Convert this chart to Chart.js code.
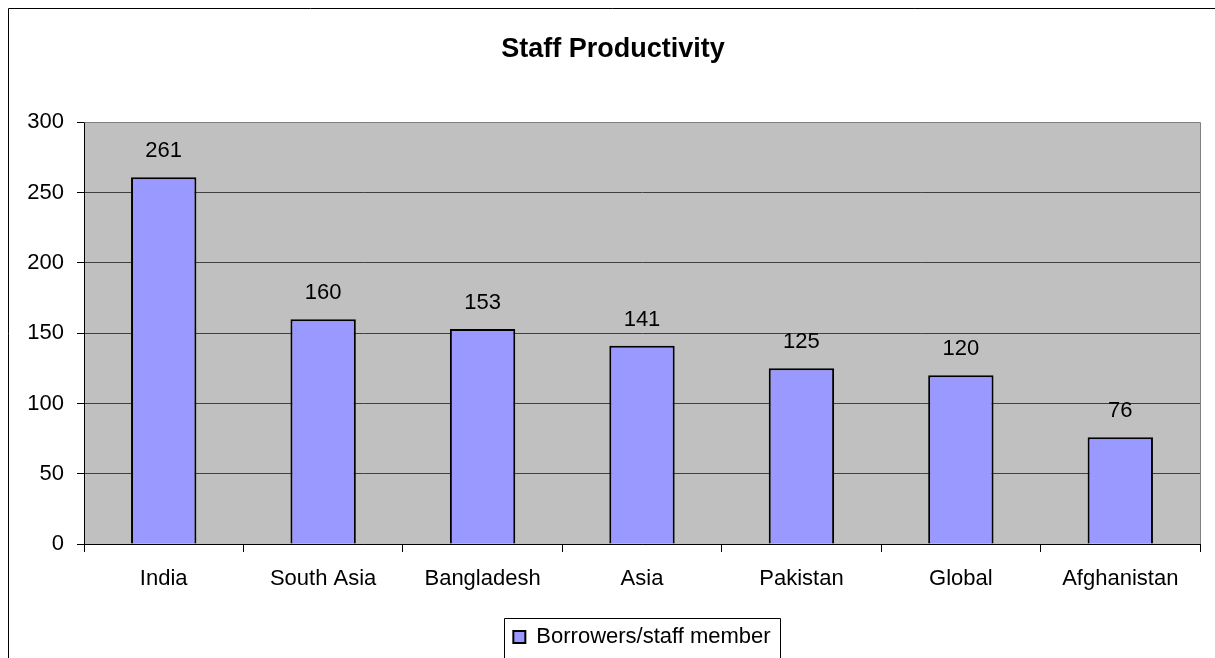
<!DOCTYPE html>
<html>
<head>
<meta charset="utf-8">
<script src="https://cdn.jsdelivr.net/npm/chart.js"></script>
<style>
  html, body { margin: 0; padding: 0; background: #fff; }
  #wrap { width: 1215px; height: 658px; overflow: hidden; }
</style>
</head>
<body>
<div id="wrap"><canvas id="chart" width="1215" height="658"></canvas></div>
<script>
  const categories = ['India', 'South Asia', 'Bangladesh', 'Asia', 'Pakistan', 'Global', 'Afghanistan'];
  const borrowersPerStaff = [261, 160, 153, 141, 125, 120, 76];
  const seriesName = 'Borrowers/staff member';
  const yTicks = [0, 50, 100, 150, 200, 250, 300];

  const FONT = '"Liberation Sans", Arial, sans-serif';

  // frame, plot background, plot border, value labels, legend frame
  const decor = {
    id: 'decor',
    beforeDraw(chart) {
      const ctx = chart.ctx;
      const a = chart.chartArea;
      ctx.save();
      ctx.fillStyle = '#C0C0C0';
      ctx.fillRect(a.left, a.top, a.right - a.left, a.bottom - a.top);
      ctx.strokeStyle = '#000';
      ctx.lineWidth = 1;
      ctx.beginPath();
      ctx.moveTo(8.5, 700);
      ctx.lineTo(8.5, 8.5);
      ctx.lineTo(1300, 8.5);
      ctx.stroke();
      ctx.restore();
    },
    afterDatasetsDraw(chart) {
      const ctx = chart.ctx;
      const a = chart.chartArea;
      ctx.save();
      ctx.strokeStyle = '#808080';
      ctx.lineWidth = 1;
      ctx.beginPath();
      ctx.moveTo(Math.round(a.left) + 0.5, Math.round(a.top) + 0.5);
      ctx.lineTo(Math.round(a.right) + 0.5, Math.round(a.top) + 0.5);
      ctx.lineTo(Math.round(a.right) + 0.5, Math.round(a.bottom));
      ctx.stroke();

      ctx.fillStyle = '#000';
      ctx.font = '22px ' + FONT;
      ctx.textAlign = 'center';
      ctx.textBaseline = 'middle';
      chart.getDatasetMeta(0).data.forEach((bar, i) => {
        ctx.fillText(String(borrowersPerStaff[i]), bar.x, bar.y - 26);
      });
      ctx.restore();
    },
    afterDraw(chart) {
      const hb = chart.legend.legendHitBoxes[0];
      if (!hb) return;
      const ctx = chart.ctx;
      ctx.save();
      ctx.strokeStyle = '#000';
      ctx.lineWidth = 1;
      const l = Math.round(hb.left - 9) + 0.5;
      const r = Math.round(hb.left + hb.width + 9) + 0.5;
      const t = Math.round(hb.top + hb.height / 2 - 19) + 0.5;
      ctx.beginPath();
      ctx.moveTo(l, 700);
      ctx.lineTo(l, t);
      ctx.lineTo(r, t);
      ctx.lineTo(r, 700);
      ctx.stroke();
      ctx.restore();
    }
  };

  new Chart(document.getElementById('chart').getContext('2d'), {
    type: 'bar',
    data: {
      labels: categories,
      datasets: [{
        label: seriesName,
        data: borrowersPerStaff,
        backgroundColor: '#9999FF',
        borderColor: '#000',
        borderWidth: 2,
        barPercentage: 0.41,
        categoryPercentage: 1
      }]
    },
    options: {
      responsive: false,
      animation: false,
      devicePixelRatio: 1,
      layout: { padding: { left: 26, right: 15, top: 0, bottom: 0 } },
      plugins: {
        title: {
          display: true,
          text: 'Staff Productivity',
          color: '#000',
          font: { family: FONT, size: 27, weight: 'bold' },
          padding: { top: 33, bottom: 57 }
        },
        legend: {
          position: 'bottom',
          fullSize: false,
          labels: {
            color: '#000',
            font: { family: FONT, size: 22 },
            boxWidth: 12,
            boxHeight: 12,
            padding: 10
          }
        },
        tooltip: { enabled: false }
      },
      scales: {
        x: {
          afterFit(scale) { scale.height = 72; },
          ticks: {
            color: '#000',
            font: { family: FONT, size: 22 },
            padding: 14,
            maxRotation: 0,
            autoSkip: false
          },
          grid: {
            display: true,
            drawOnChartArea: false,
            drawTicks: true,
            tickLength: 8,
            tickColor: '#000',
            offset: true
          },
          border: { display: true, color: '#000', width: 1 }
        },
        y: {
          min: 0,
          max: 300,
          afterFit(scale) { scale.width = 58; },
          afterBuildTicks(scale) { scale.ticks = yTicks.map(v => ({ value: v })); },
          ticks: {
            color: '#000',
            font: { family: FONT, size: 22 },
            padding: 13
          },
          grid: {
            color: '#404040',
            tickColor: '#000',
            tickLength: 7
          },
          border: { display: true, color: '#000', width: 1 }
        }
      }
    },
    plugins: [decor]
  });
</script>
</body>
</html>
